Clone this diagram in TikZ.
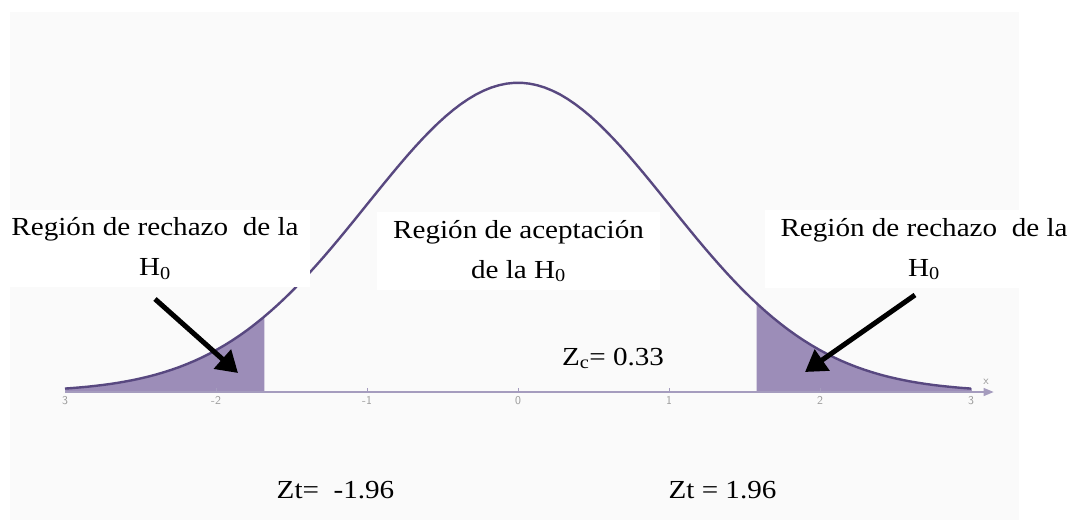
\documentclass[tikz,border=0pt]{standalone}
\usepackage{fontspec}
\setmainfont{Liberation Serif}[FakeStretch=1.12]
\usepackage{tikz}
\usetikzlibrary{calc, positioning, arrows.meta}

\definecolor{curva}{RGB}{88,72,128}
\definecolor{sombra}{RGB}{156,141,184}
\definecolor{eje}{RGB}{165,156,190}
\definecolor{fondo}{RGB}{250,250,250}

\tikzset{
	etiqueta/.style={fill=white, inner sep=0pt, align=center, font=\fontsize{26}{40}\selectfont},
	valor/.style={anchor=base, inner sep=0pt, font=\fontsize{26}{30}\selectfont},
	numeje/.style={anchor=north, inner sep=1pt, text=gray!80, font=\fontsize{12}{13}\sffamily},
	flecha/.style={line width=5pt, -{Triangle[length=21pt,width=25pt]}},
	declare function={f(\t)=exp(-0.5*(\t)*(\t))/sqrt(2*pi);}
}

\begin{document}
\begin{tikzpicture}[x=1pt, y=-1pt]
	\useasboundingbox (0,0) rectangle (1083,520);
	\fill [fondo] (10,12) rectangle (1019,520);
	
	% curva normal, 0 en (518,392)
	\begin{scope}[shift={(518,392)}, x=151pt, y=775pt]
		\fill [sombra] (-3,0) -- plot [domain=-3:-1.68, samples=60] (\x,{f(\x)}) -- (-1.68,0) -- cycle;
		\fill [sombra] (1.58,0) -- plot [domain=1.58:3, samples=60] (\x,{f(\x)}) -- (3,0) -- cycle;
		
		\draw [eje, line width=1.2pt, -{Triangle[length=10pt,width=8pt]}] (-3,0) -- (3.15,0);
		\foreach \k/\t [count=\i] in {-3/3,-2/-2,-1/-1,0/0,1/1,2/2,3/3} {
			\draw [eje, line width=0.8pt] (\k,0) -- (\k,0.005);
			\node [numeje] (n\i) at (\k,-0.004) {\t};
		}
		\node [numeje, anchor=center] (ejex) at (3.1,0.013) {x};
		
		\draw [curva, line width=2.4pt] plot [domain=-3:3, samples=120] (\x,{f(\x)});
	\end{scope}
	
	\node [etiqueta, minimum width=310pt, minimum height=77pt] (rechazoIzq) at (155,248.5) {Región de rechazo~ de la\\H\textsubscript{0}};
	\node [etiqueta, minimum width=283pt, minimum height=78pt] (aceptacion) at (518.5,251) {Región de aceptación\\de la H\textsubscript{0}};
	\node [etiqueta, minimum width=318pt, minimum height=78pt] (rechazoDer) at (924,249) {Región de rechazo~ de la\\H\textsubscript{0}};
	
	\node [valor] (zc) at (613,365) {Z\textsubscript{c}= 0.33};
	\node [valor] (ztIzq) at (335.5,498) {Zt=~ -1.96};
	\node [valor] (ztDer) at (722.5,498) {Zt = 1.96};
	
	\coordinate (colaIzq) at (155,299);
	\coordinate (puntaIzq) at (238,373);
	\coordinate (colaDer) at (915,295);
	\coordinate (puntaDer) at (805,372);
	\draw [flecha] (colaIzq) -- (puntaIzq);
	\draw [flecha] (colaDer) -- (puntaDer);
\end{tikzpicture}
\end{document}
